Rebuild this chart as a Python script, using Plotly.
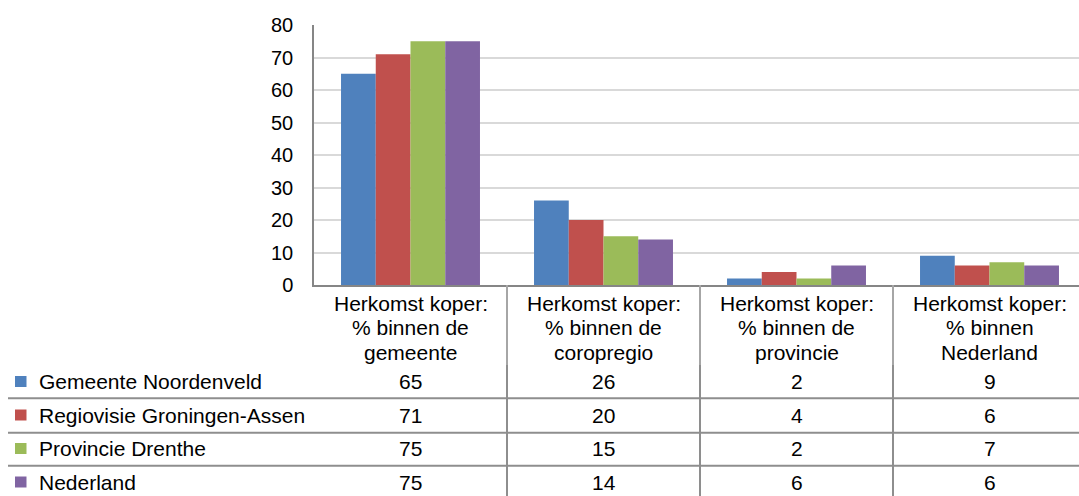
import plotly.graph_objects as go

# Category labels (one list of text lines per column of the data table)
categories = [
    ["Herkomst koper:", "% binnen de", "gemeente"],
    ["Herkomst koper:", "% binnen de", "coropregio"],
    ["Herkomst koper:", "% binnen de", "provincie"],
    ["Herkomst koper:", "% binnen", "Nederland"],
]

series_names = [
    "Gemeente Noordenveld",
    "Regiovisie Groningen-Assen",
    "Provincie Drenthe",
    "Nederland",
]
gemeente_noordenveld = [65, 26, 2, 9]
regiovisie_groningen_assen = [71, 20, 4, 6]
provincie_drenthe = [75, 15, 2, 7]
nederland = [75, 14, 6, 6]
series_values = [gemeente_noordenveld, regiovisie_groningen_assen,
                 provincie_drenthe, nederland]

colors = ["#4F81BD", "#C0504D", "#9BBB59", "#8064A2"]
y_ticks = [0, 10, 20, 30, 40, 50, 60, 70, 80]

# Page geometry (pixels)
W, H = 1079, 496
L, T, B = 314, 25, 211
PLOT_W = W - L
PLOT_H = H - T - B
CAT_PX = 193  # width of one category column

FONT = "Liberation Sans, Arial, sans-serif"
LINE_COL = "#8E8E8E"


def xp(px):
    return (px - L) / PLOT_W


def yp(py):
    return (H - B - py) / PLOT_H


fig = go.Figure()
x_idx = list(range(len(categories)))
for name, vals, col in zip(series_names, series_values, colors):
    fig.add_trace(go.Bar(x=x_idx, y=vals, name=name,
                         marker=dict(color=col, line=dict(width=0))))

annotations = []
shapes = []

# Column headers of the table
header_rows_py = [303, 327.5, 352]
for i, lines in enumerate(categories):
    for line, py in zip(lines, header_rows_py):
        annotations.append(dict(x=i, xref="x", y=yp(py), yref="paper",
                                text=line, showarrow=False,
                                xanchor="center", yanchor="middle",
                                font=dict(size=21, family=FONT, color="black")))

# Table body: legend keys, series names and values
row_py = [381.5, 415, 448.5, 482]
for r, (name, vals, col) in enumerate(zip(series_names, series_values, colors)):
    py = row_py[r]
    shapes.append(dict(type="rect", xref="paper", yref="paper",
                       x0=xp(15), x1=xp(26.5), y0=yp(py - 5.5), y1=yp(py + 5.5),
                       fillcolor=col, line=dict(width=0)))
    annotations.append(dict(x=xp(37), xref="paper", y=yp(py), yref="paper",
                            text=name, showarrow=False,
                            xanchor="left", yanchor="middle",
                            font=dict(size=21, family=FONT, color="black")))
    for i, v in enumerate(vals):
        annotations.append(dict(x=i, xref="x", y=yp(py), yref="paper",
                                text=str(v), showarrow=False,
                                xanchor="center", yanchor="middle",
                                font=dict(size=21, family=FONT, color="black")))

# Horizontal row separators
for py in [398.3, 432.7, 465.8]:
    shapes.append(dict(type="line", xref="paper", yref="paper",
                       x0=xp(8), x1=xp(W + 5), y0=yp(py), y1=yp(py),
                       line=dict(color=LINE_COL, width=2)))

# Vertical column separators below the axis: lighter through the header
# cells, darker through the value rows
for xv in [0.5, 1.5, 2.5]:
    shapes.append(dict(type="line", xref="x", yref="paper",
                       x0=xv, x1=xv, y0=0, y1=yp(365),
                       line=dict(color="#A6A6A6", width=2)))
    shapes.append(dict(type="line", xref="x", yref="paper",
                       x0=xv, x1=xv, y0=yp(365), y1=yp(H + 5),
                       line=dict(color=LINE_COL, width=2)))

fig.update_layout(
    width=W, height=H,
    margin=dict(l=L, r=0, t=T, b=B, pad=0),
    template="none",
    paper_bgcolor="white", plot_bgcolor="white",
    barmode="group", bargap=0.28, bargroupgap=0,
    showlegend=False,
    font=dict(family=FONT, color="black"),
    annotations=annotations,
    shapes=shapes,
    xaxis=dict(range=[-0.5, -0.5 + PLOT_W / CAT_PX], showticklabels=False,
               showgrid=False, zeroline=False, showline=True,
               linecolor="#868686", linewidth=1.5, ticks=""),
    yaxis=dict(range=[0, 80], tickvals=y_ticks, showgrid=True,
               gridcolor="#D9D9D9", gridwidth=1.5, zeroline=False,
               showline=True, linecolor="#868686", linewidth=1.5,
               ticks="outside", ticklen=15, tickcolor="rgba(0,0,0,0)",
               tickfont=dict(size=20, family=FONT, color="black")),
)

fig.write_html("out.html")
